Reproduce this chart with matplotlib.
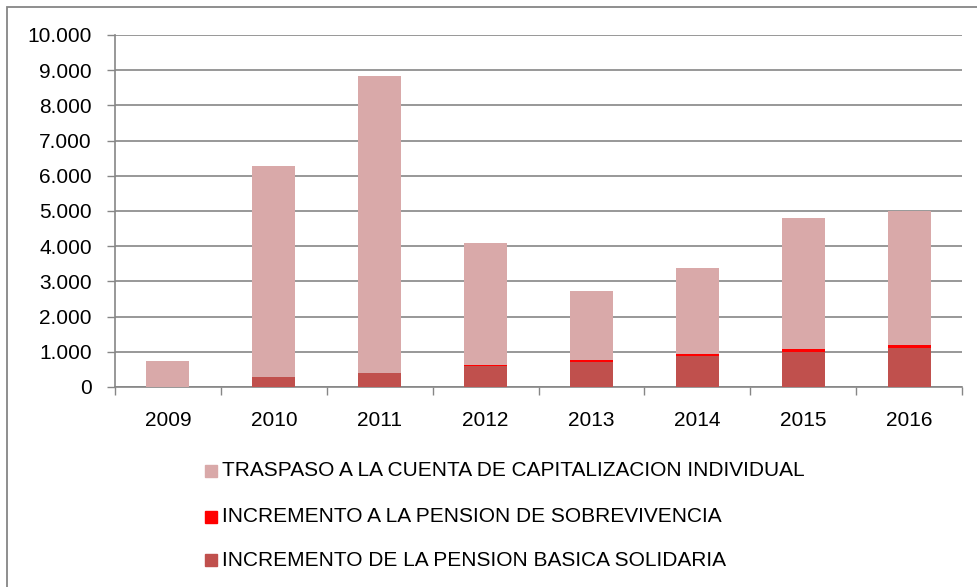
import matplotlib
matplotlib.use("Agg")
import matplotlib.pyplot as plt
from matplotlib.patches import Rectangle
import numpy as np

years = ["2009", "2010", "2011", "2012", "2013", "2014", "2015", "2016"]
basica = [0, 275, 405, 590, 720, 880, 1005, 1100]
sobrevivencia = [0, 10, 5, 30, 50, 65, 75, 100]
traspaso = [740, 5995, 8430, 3460, 1960, 2435, 3710, 3800]
yticks = [0, 1000, 2000, 3000, 4000, 5000, 6000, 7000, 8000, 9000, 10000]
ytick_labels = ["0", "1.000", "2.000", "3.000", "4.000", "5.000", "6.000",
                "7.000", "8.000", "9.000", "10.000"]
labels = ["TRASPASO A LA CUENTA DE CAPITALIZACION INDIVIDUAL",
          "INCREMENTO A LA PENSION DE SOBREVIVENCIA",
          "INCREMENTO DE LA PENSION BASICA SOLIDARIA"]

c_tras = "#D9A9A9"
c_sobre = "#FF0000"
c_base = "#C0504D"
gray = "#868686"

plt.rcParams['font.family'] = ['Liberation Sans', 'DejaVu Sans']
FS = 15

W, H = 977, 587
fig = plt.figure(figsize=(W / 100, H / 100), dpi=100)
ax = fig.add_axes([115 / W, 1 - 387 / H, (962 - 115) / W, (387 - 35) / H])

x = np.arange(len(years))
b = np.array(basica)
s = np.array(sobrevivencia)
t = np.array(traspaso)
bw = 0.405
ax.bar(x, b, bw, color=c_base, zorder=3)
ax.bar(x, s, bw, bottom=b, color=c_sobre, zorder=3)
ax.bar(x, t, bw, bottom=b + s, color=c_tras, zorder=3)

ax.set_xlim(-0.5, len(years) - 0.5)
ax.set_ylim(0, 10000)
ax.set_yticks(yticks)
ax.set_yticklabels(ytick_labels, fontsize=FS)
ax.set_xticks(x)
ax.set_xticklabels(years, fontsize=FS)
ax.tick_params(axis='x', length=0, pad=17)
ax.tick_params(axis='y', length=5.8, color=gray, width=1, pad=11)
ax.set_xticks(np.arange(-0.5, len(years), 1), minor=True)
ax.tick_params(axis='x', which='minor', length=5.8, color=gray, width=1)
ax.yaxis.grid(True, color=gray, linewidth=1.2, zorder=0)
for sp in ['top', 'right']:
    ax.spines[sp].set_visible(False)
for sp in ['left', 'bottom']:
    ax.spines[sp].set_color(gray)
    ax.spines[sp].set_linewidth(1.2)

# legend
rows = [(471, c_tras, labels[0]), (517, c_sobre, labels[1]), (560, c_base, labels[2])]
for yy, col, lab in rows:
    fig.patches.append(Rectangle((205 / W, 1 - (yy + 6) / H), 12 / W, 12 / H,
                                 transform=fig.transFigure, color=col))
    fig.text(222 / W, 1 - yy / H, lab, fontsize=FS, va='center', ha='left')

# outer border (cut off at right and bottom)
fig.patches.append(Rectangle((7 / W, -0.05), 1.0, 1.05 - 7 / H,
                             transform=fig.transFigure, fill=False,
                             edgecolor=gray, linewidth=1.3))

fig.savefig("out.png", dpi=100, facecolor="white")
